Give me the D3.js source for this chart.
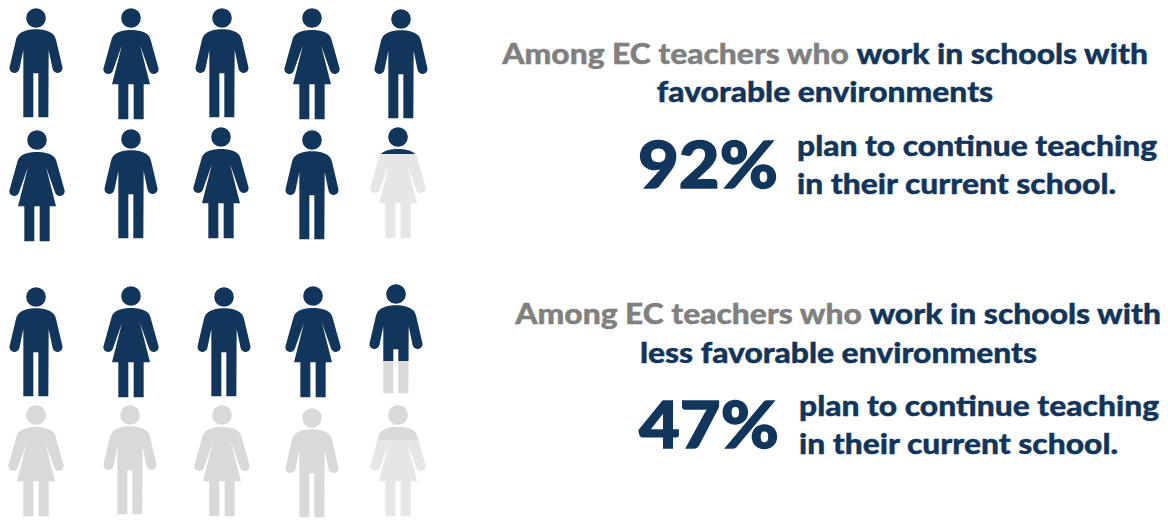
<!DOCTYPE html>
<html>
<head>
<meta charset="utf-8">
<script src="https://cdnjs.cloudflare.com/ajax/libs/d3/7.8.5/d3.min.js"></script>
<style>
  html, body { margin: 0; background: #fff; }
  svg { display: block; }
  text { font-family: Lato, "Noto Sans", sans-serif; font-weight: 900; }
</style>
</head>
<body>
<svg id="chart" width="1168" height="520"></svg>
<script>
// Share of teachers planning to stay, by school environment.
const groups = ["favorable", "less favorable"];
const shares = [92, 47];
const iconsPerGroup = 10;
// Man and woman figures alternate within each group of ten.
const figureKinds = ["m", "f", "m", "f", "m", "f", "m", "f", "m", "f"];
const leadText = "Among EC teachers who ";
const boldFirst = "work in schools with";
const boldSecond = ["favorable environments", "less favorable environments"];
const planLines = ["plan to continue teaching", "in their current school."];

const navy = "#12355b", greyText = "#808080";
const greyMid = "#d9d9d9", greyLight = "#e6e6e6";

const svg = d3.select("#chart");
const defs = svg.append("defs");

// Column and row placement of the figures.
const colX = d3.scalePoint().domain(d3.range(5)).range([36, 400]);
const rowY = [
  d3.scalePoint().domain([0, 1]).range([8, 129]),
  d3.scalePoint().domain([0, 1]).range([286, 405])
];
// Small hand-placed offsets for each figure: [dx, dy].
const nudges = [
  [[0,0],[4,0],[4,0],[3,0],[1,1],[1,1],[4,0],[3,-2],[3,1],[-2,-2]],
  [[0,1],[4,0],[6,1],[4,0],[-4,-2],[0,0],[3,0],[4,0],[3,3],[-2,0]]
];

// Figure outlines; the unit is a third of a pixel, origin at the top of the head.
const bodyMale = "M0,64 C18,64 38,68 50,78 C55,82 58,88 60,95 L79,176 A15,15 0 0 1 50,184 L38,126 L37,328 L7,328 L7,196 L-8,196 L-8,328 L-38,328 L-38,126 L-50,184 A15,15 0 0 1 -79,176 L-60,95 C-58,88 -55,82 -50,78 C-38,68 -18,64 0,64 Z";
const bodyFemale = "M0,66 C18,66 38,70 48,78 C54,83 57,88 59,96 L83,182 A15,15 0 0 1 55,190 L27,111 L57,229 L38,229 L38,334 L8,334 L8,229 L-8,229 L-8,334 L-38,334 L-38,229 L-57,229 L-27,111 L-55,190 A15,15 0 0 1 -83,182 L-59,96 C-57,88 -54,83 -48,78 C-38,70 -18,66 0,66 Z";
const outline = { m: bodyMale, f: bodyFemale };
const figureScale = 1 / 3;
// Converts the filled fraction of one figure to a depth in figure units.
const fillDepth = d3.scaleLinear().domain([0, 1]).range([21, 321]);
// The last figure of each block has a pale base; the darker tone reaches this depth on the lower block.
const paleCapFraction = 0.28;

function drawFigure(parent, kind, clipId, colour) {
  const g = parent.append("g");
  if (clipId) g.attr("clip-path", `url(#${clipId})`);
  g.append("circle").attr("cx", 0).attr("cy", 30).attr("r", 29.5).attr("fill", colour);
  g.append("path").attr("d", outline[kind]).attr("fill", colour);
}
function clipTo(id, frac) {
  defs.append("clipPath").attr("id", id).append("rect")
    .attr("x", -120).attr("y", -10).attr("width", 240).attr("height", fillDepth(frac) + 10);
  return id;
}

shares.forEach((share, gi) => {
  const filled = share / 100 * iconsPerGroup;
  d3.range(iconsPerGroup).forEach(i => {
    const col = i % 5, row = Math.floor(i / 5);
    const kind = figureKinds[i];
    const [dx, dy] = nudges[gi][i];
    const fig = svg.append("g")
      .attr("transform", `translate(${colX(col) + dx},${rowY[gi](row) + dy}) scale(${figureScale})`);
    const frac = Math.max(0, Math.min(1, filled - i));
    if (frac >= 1) {
      drawFigure(fig, kind, null, navy);
      return;
    }
    const isLast = i === iconsPerGroup - 1;
    drawFigure(fig, kind, null, isLast ? greyLight : greyMid);
    if (frac > 0) {
      drawFigure(fig, kind, clipTo(`fill-${gi}-${i}`, frac), navy);
    } else if (isLast) {
      drawFigure(fig, kind, clipTo(`cap-${gi}-${i}`, paleCapFraction), greyMid);
    }
  });
});

// Captions beside each block of figures; glyphs are widened slightly for the heavy display look.
const textStretch = 1.115, numberStretch = 1.1;
const bodySize = 28.5, numberSize = 64;

function label(x, y, size, stretch, anchor, stroke) {
  return svg.append("text")
    .attr("transform", `translate(${x},${y}) scale(${stretch},1)`)
    .attr("text-anchor", anchor)
    .attr("font-size", size)
    .attr("stroke-width", stroke)
    .attr("paint-order", "stroke");
}

const captionLayout = [
  { right: 1148, cx: 825, y1: 64, y2: 102, numX: 638, numY: 188, planX: 797, planY1: 156, planY2: 194 },
  { right: 1161, cx: 838.5, y1: 324, y2: 363, numX: 639, numY: 448, planX: 799, planY1: 416, planY2: 454 }
];
captionLayout.forEach((c, gi) => {
  const head = label(c.right, c.y1, bodySize, textStretch, "end", 0.4);
  head.append("tspan").attr("fill", greyText).attr("stroke", greyText).text(leadText);
  head.append("tspan").attr("fill", navy).attr("stroke", navy).text(boldFirst);
  label(c.cx, c.y2, bodySize, textStretch, "middle", 0.4)
    .attr("fill", navy).attr("stroke", navy).text(boldSecond[gi]);
  label(c.numX, c.numY, numberSize, numberStretch, "start", 1.4)
    .attr("fill", navy).attr("stroke", navy).text(shares[gi] + "%");
  planLines.forEach((line, li) => {
    label(c.planX, li ? c.planY2 : c.planY1, bodySize, textStretch, "start", 0.4)
      .attr("fill", navy).attr("stroke", navy).text(line);
  });
});
</script>
</body>
</html>
